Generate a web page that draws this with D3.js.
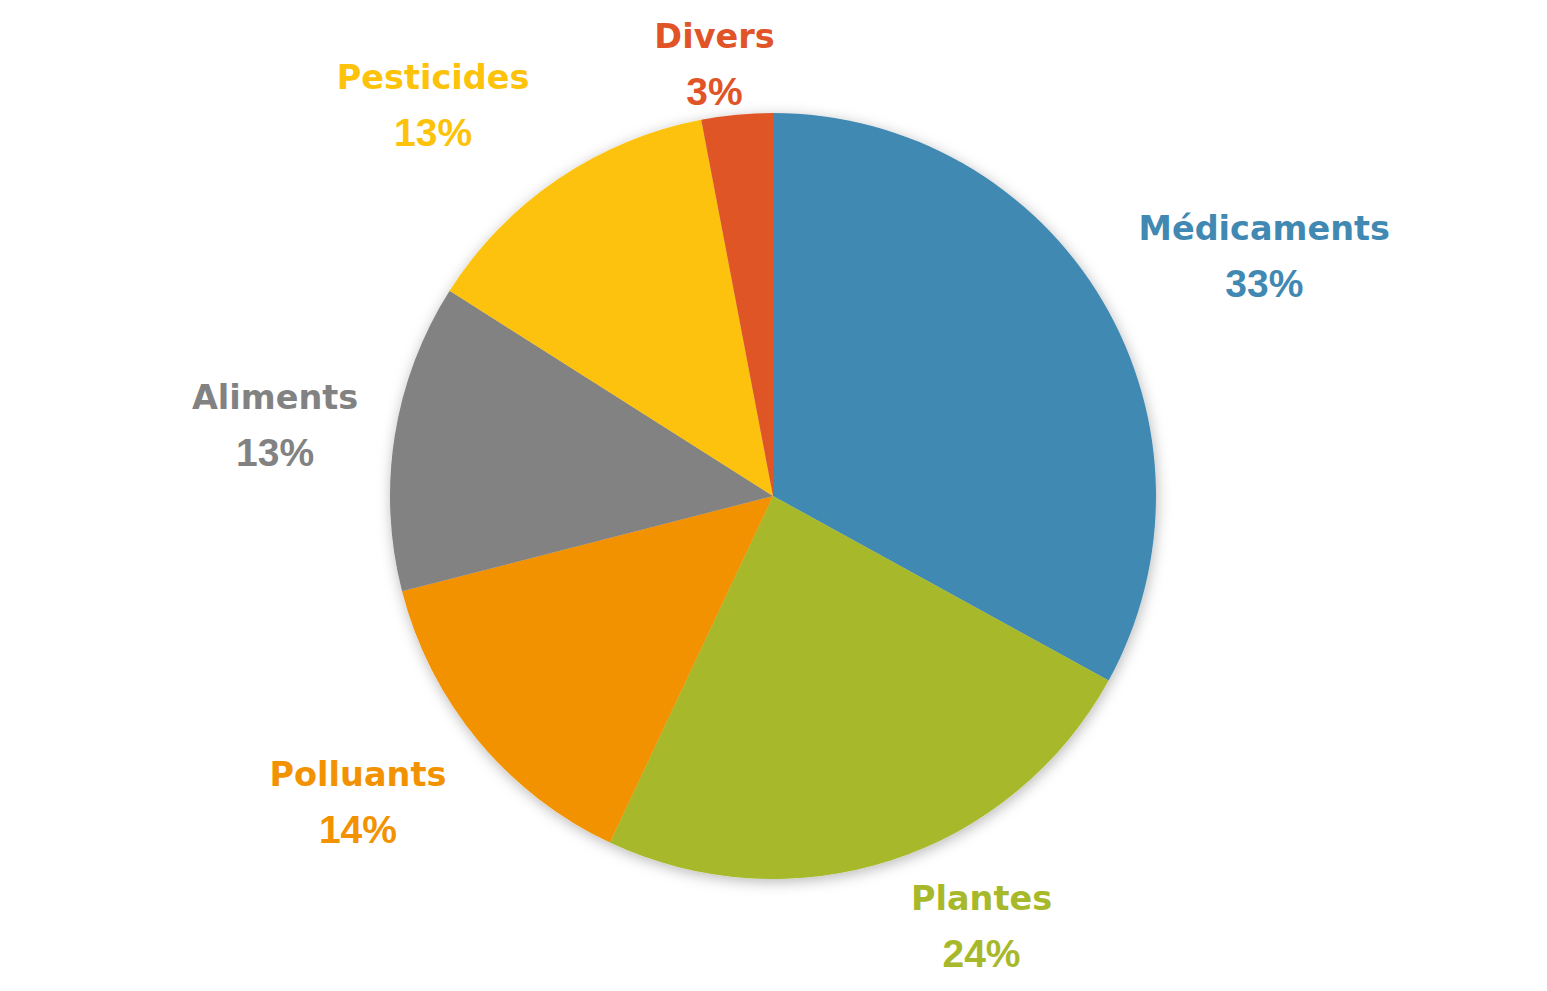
<!DOCTYPE html>
<html>
<head>
<meta charset="utf-8">
<script src="https://cdn.jsdelivr.net/npm/d3@7"></script>
<style>
  html, body { margin: 0; padding: 0; background: #ffffff; }
  svg { display: block; }
</style>
</head>
<body>
<svg id="chart" width="1547" height="991"></svg>
<script>
// ---- data ----
const categories = ["Médicaments", "Plantes", "Polluants", "Aliments", "Pesticides", "Divers"];
const values = [33, 24, 14, 13, 13, 3];
const colors = ["#4189B2", "#A7B92A", "#F39200", "#828282", "#FDC20A", "#E05427"];

// ---- layout ----
const W = 1547, H = 991;
const cx = 773, cy = 496, R = 383;
// manual label nudges (like labels dragged in the original), px
const labelNudge = {
  "Médicaments": [19, -3],
  "Plantes": [56, -12],
  "Polluants": [-21, 10],
  "Aliments": [2, 2],
  "Pesticides": [-48, -6],
  "Divers": [-13, 31]
};

const svg = d3.select("#chart");
const defs = svg.append("defs");
const f = defs.append("filter").attr("id", "shadow")
  .attr("x", "-20%").attr("y", "-20%").attr("width", "140%").attr("height", "140%");
f.append("feDropShadow").attr("dx", 1).attr("dy", 3).attr("stdDeviation", 7)
  .attr("flood-color", "#000").attr("flood-opacity", 0.28);

const data = categories.map((c, i) => ({ name: c, value: values[i], color: colors[i] }));
const total = d3.sum(values);

const pie = d3.pie().value(d => d.value).sort(null);
const arcs = pie(data);
const arc = d3.arc().innerRadius(0).outerRadius(R);

const g = svg.append("g").attr("transform", `translate(${cx},${cy})`);
g.append("g").attr("filter", "url(#shadow)")
  .selectAll("path").data(arcs).join("path")
  .attr("d", arc)
  .attr("fill", d => d.data.color);

// labels
const fmt = v => Math.round(v / total * 100) + "%";
const gap = 40, blockH = 84;
const lg = svg.append("g");
arcs.forEach(a => {
  const t = lg.append("text").attr("text-anchor", "middle").attr("fill", a.data.color);
  const n = t.append("tspan")
    .attr("font-family", "'DejaVu Sans', sans-serif").attr("font-weight", "bold")
    .attr("font-size", 33.5).text(a.data.name);
  const p = t.append("tspan")
    .attr("font-family", "'Liberation Sans', Arial, sans-serif").attr("font-weight", "bold")
    .attr("font-size", 39).text(fmt(a.data.value));
  const w = Math.max(n.node().getComputedTextLength(), p.node().getComputedTextLength());
  const mid = (a.startAngle + a.endAngle) / 2;
  const s = Math.sin(mid), c = Math.cos(mid);
  const nd = labelNudge[a.data.name] || [0, 0];
  const x = cx + (R + gap) * s + s * w / 2 + nd[0];
  const y = cy - (R + gap) * c - c * blockH / 2 + nd[1];
  const nb = y - 16.5;
  n.attr("x", x).attr("y", nb);
  p.attr("x", x).attr("y", nb + 57);
});
</script>
</body>
</html>
